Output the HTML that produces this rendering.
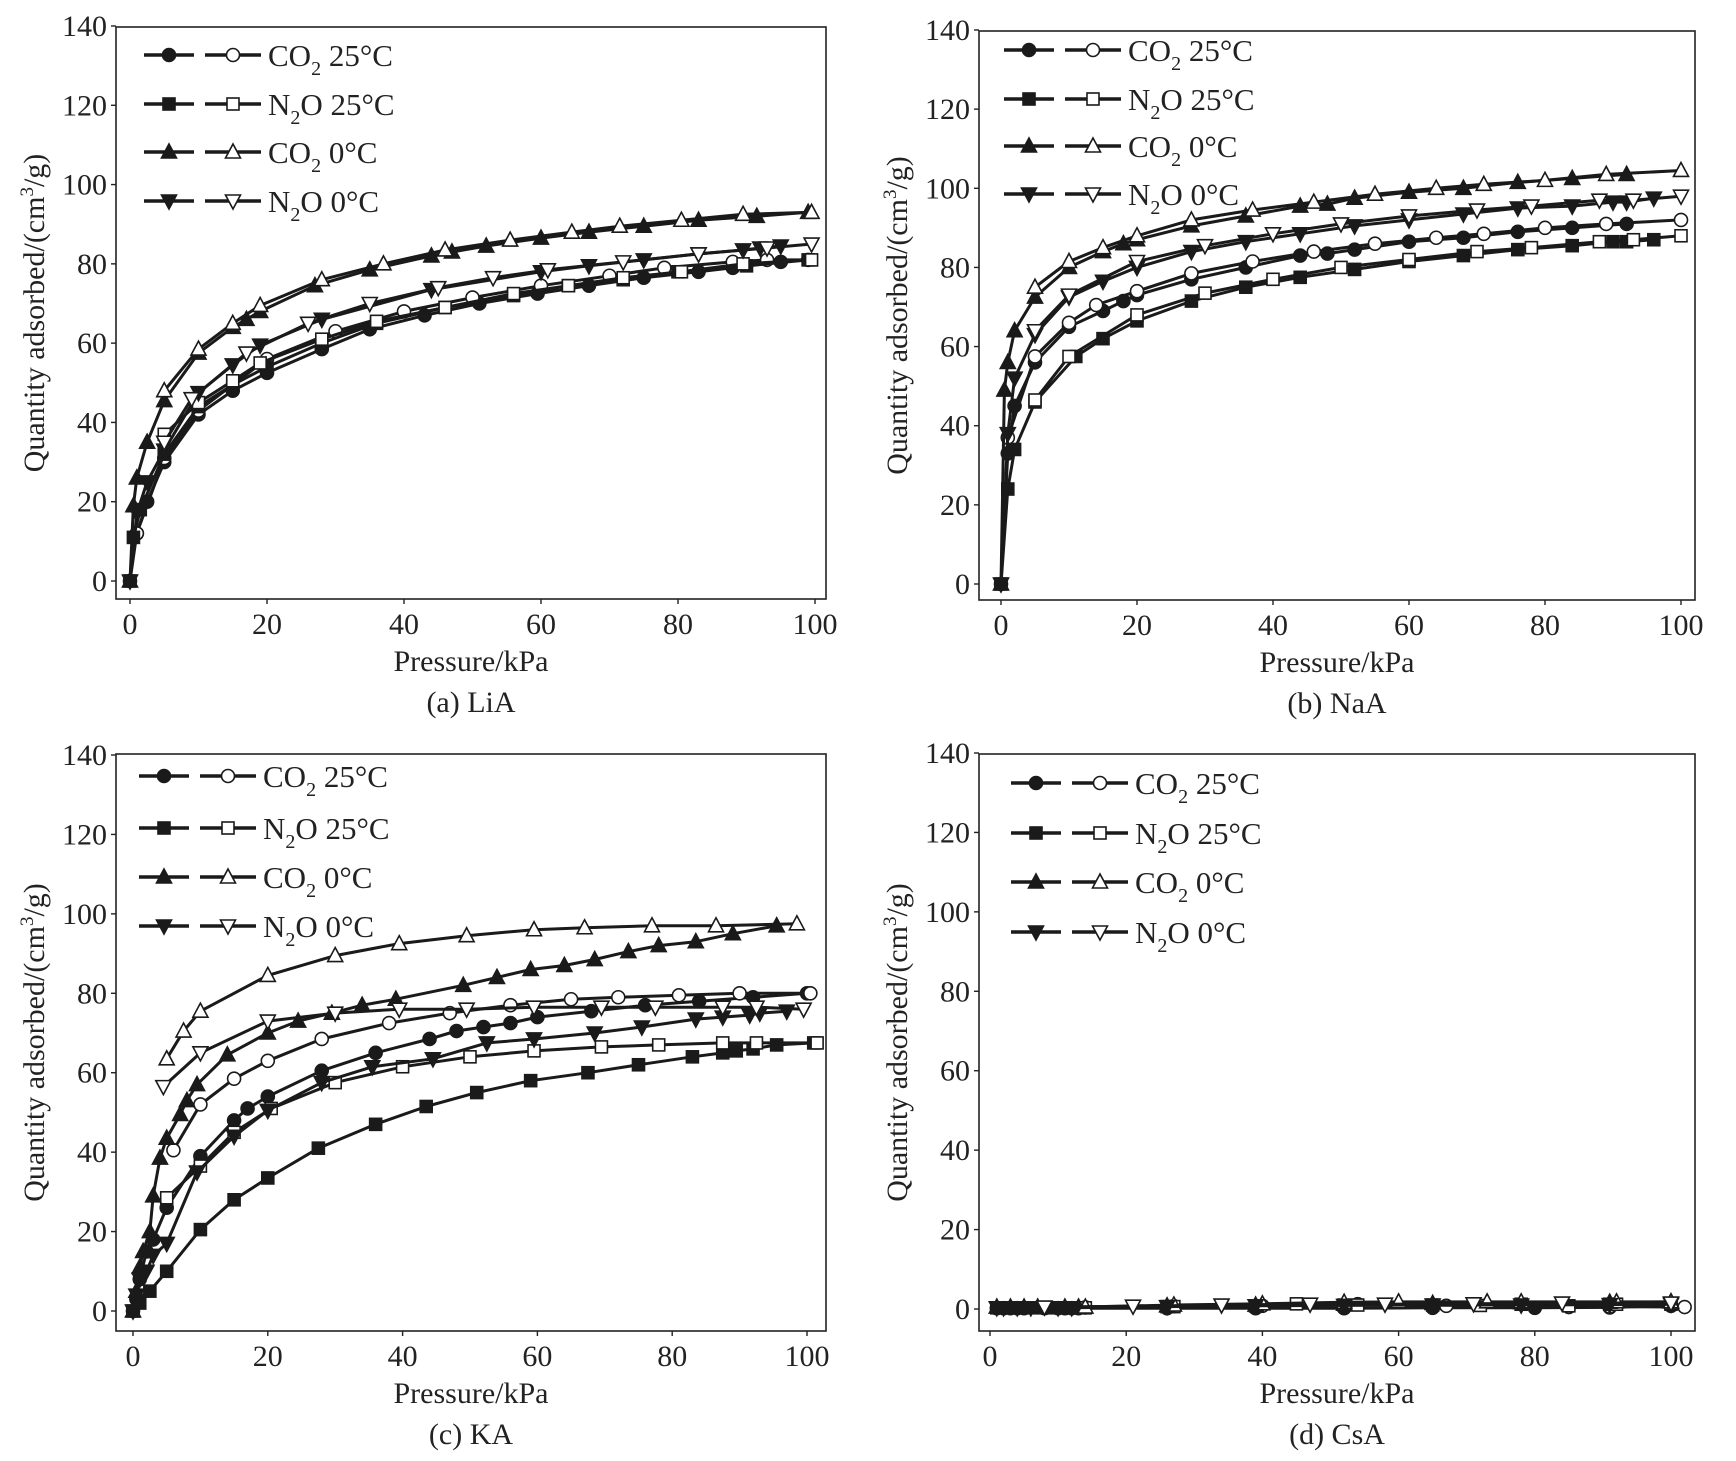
<!DOCTYPE html>
<html><head><meta charset="utf-8"><style>
html,body{margin:0;padding:0;background:#fff;}
svg{display:block;font-family:"Liberation Serif",serif;}
</style></head><body>
<svg id="fig" width="1736" height="1461" viewBox="0 0 1736 1461" xmlns="http://www.w3.org/2000/svg"></svg>
<script>
// ---- categories / ticks ----
const xTicks = [0,20,40,60,80,100];
const yTicks = [0,20,40,60,80,100,120,140];
const seriesNames = ["CO2 25", "N2O 25", "CO2 0", "N2O 0"];
const panelCaptions = ["(a) LiA","(b) NaA","(c) KA","(d) CsA"];

// ---- (a) LiA ----
const liaCO2_25_ads = [[0,0],[1,12],[2.5,20],[5,30],[10,42],[15,48],[20,52.5],[28,58.5],[35,63.5],[43,67],[51,70],[59.5,72.5],[67,74.5],[75,76.5],[83,78],[88,79],[95,80.5]];
const liaCO2_25_des = [[1,12],[5,31],[10,43],[20,56],[30,63],[40,68],[50,71.5],[60,74.5],[70,77],[78,79],[88,80.5],[93,81],[99,81]];
const liaN2O_25_ads = [[0,0],[0.5,11],[1.5,18],[5,32],[10,44],[15,49.5],[20,54],[28,60],[36,65],[46,69],[56,72],[64,74.5],[72,76],[80,78],[90,79.5],[99,81]];
const liaN2O_25_des = [[5,37],[10,45],[15,50.5],[19,55],[28,61],[36,65.5],[46,69],[56,72.5],[64,74.5],[72,76.5],[80.5,78],[89.5,80],[99.5,81]];
const liaCO2_0_ads = [[0,0],[0.5,19],[1,26],[2.5,35],[5,45.5],[10,57.5],[15,64],[17,66],[19,68],[27,74.5],[35,78.5],[44,82],[47,83],[52,84.5],[60,86.5],[67,88],[75,89.5],[83,91],[91.5,92],[99,93]];
const liaCO2_0_des = [[5,48],[10,58.5],[15,65],[19,69.5],[28,76],[37,80],[46,83.5],[55.5,86],[64.5,88],[71.5,89.5],[80.5,91],[89.5,92.5],[99.5,93]];
const liaN2O_0_ads = [[0,0],[1,17],[2.5,25],[5,33],[10,47.5],[15,54.5],[19,59.5],[28,66],[44,73.5],[60,78],[67,79.5],[75,81],[83,82.5],[89.5,83.5],[92,84],[95,84.5]];
const liaN2O_0_des = [[5,35],[9,46],[17,57.5],[26,65],[35,70],[45,74],[53,76.5],[61,78.5],[72,80.5],[83,82.5],[93,84],[99.5,85]];

// ---- (b) NaA ----
const naaCO2_25_ads = [[0,0],[1,33],[2,45],[5,56],[10,65],[15,69],[18,71.5],[20,73],[28,77],[36,80],[44,83],[48,83.5],[52,84.5],[60,86.5],[68,87.5],[76,89],[84,90],[92,91]];
const naaCO2_25_des = [[1,37],[5,57.5],[10,66],[14,70.5],[20,74],[28,78.5],[37,81.5],[46,84],[55,86],[64,87.5],[71,88.5],[80,90],[89,91],[100,92]];
const naaN2O_25_ads = [[0,0],[1,24],[2,34],[5,46],[11,57.5],[15,62],[20,66.5],[28,71.5],[36,75],[44,77.5],[52,79.5],[60,81.5],[68,83],[76,84.5],[84,85.5],[90,86.5],[92,86.5],[96,87]];
const naaN2O_25_des = [[5,46.5],[10,57.5],[20,68],[30,73.5],[40,77],[50,80],[60,82],[70,84],[78,85],[88,86.5],[93,87],[100,88]];
const naaCO2_0_ads = [[0,0],[0.5,49],[1,56],[2,64],[5,72.5],[10,80],[15,84],[18,86],[20,87],[28,90.5],[36,93],[44,95.5],[48,96],[52,97.5],[60,99],[68,100],[76,101.5],[84,102.5],[92,103.5]];
const naaCO2_0_des = [[5,75],[10,81.5],[15,85],[20,88],[28,92],[37,94.5],[46,96.5],[55,98.5],[64,100],[71,101],[80,102],[89,103.5],[100,104.5]];
const naaN2O_0_ads = [[0,0],[1,38],[2,52],[5,63],[10,72.5],[15,76.5],[20,80],[28,84],[36,86.5],[44,88.5],[52,90.5],[60,92],[68,93.5],[76,95],[84,95.5],[90,96.5],[92,96.5],[96,97.5]];
const naaN2O_0_des = [[5,64],[10,73],[20,81.5],[30,85.5],[40,88.5],[50,91],[60,93],[70,94.5],[78,95.5],[88,97],[93,97],[100,98]];

// ---- (c) KA ----
const kaCO2_25_ads = [[0,0],[0.5,3],[1,8],[2,15],[3,18],[5,26],[10,39],[15,48],[17,51],[20,54],[28,60.5],[36,65],[44,68.5],[48,70.5],[52,71.5],[56,72.5],[60,74],[68,75.5],[76,77],[84,78],[92,79],[100,80]];
const kaCO2_25_des = [[100.5,80],[90,80],[81,79.5],[72,79],[65,78.5],[56,77],[47,75],[38,72.5],[28,68.5],[20,63],[15,58.5],[10,52],[6,40.5]];
const kaN2O_25_ads = [[0,0],[1,2],[2.5,5],[5,10],[10,20.5],[15,28],[20,33.5],[27.5,41],[36,47],[43.5,51.5],[51,55],[59,58],[67.5,60],[75,62],[83,64],[87.5,65],[89.5,65.5],[92,66],[95.5,67],[101,67.5]];
const kaN2O_25_des = [[101.5,67.5],[92.5,67.5],[87.5,67.5],[78,67],[69.5,66.5],[59.5,65.5],[50,64],[40,61.5],[30,57.5],[20.5,51],[15,45],[10,36.5],[5,28.5]];
const kaCO2_0_ads = [[0,0],[0.5,5],[1,11],[1.5,15],[2.5,20],[3,29],[4,38.5],[5,43.5],[7,49.5],[8,53],[9.5,57],[14,64.5],[20,70],[24.5,73],[29.5,75],[34,77],[39,78.5],[49,82],[54,84],[59,86],[64,87],[68.5,88.5],[73.5,90.5],[78,92],[83.5,93],[89,95],[95.5,97]];
const kaCO2_0_des = [[98.5,97.5],[86.5,97],[77,97],[67,96.5],[59.5,96],[49.5,94.5],[39.5,92.5],[30,89.5],[20,84.5],[10,75.5],[7.5,70.5],[5,63.5]];
const kaN2O_0_ads = [[0,0],[0.5,4],[1,8],[2,10],[3,14],[5,17],[9.5,35],[15,44],[20,50.5],[28,57.5],[35.5,61.5],[44.5,63.5],[52.5,67.5],[59.5,68.5],[68.5,70],[75.5,71.5],[83.5,73.5],[87.5,74],[91.5,74.5],[93,75],[97,75.5]];
const kaN2O_0_des = [[99.5,76],[92.5,76.5],[87.5,76.5],[77.5,76.5],[69.5,76.5],[59.5,76.5],[49.5,76],[39.5,76],[30,75],[20,73],[10,65],[4.5,56.5]];

// ---- (d) CsA ----
const csaCO2_25_ads = [[1,0.2],[2,0.2],[3,0.2],[4,0.2],[5,0.2],[8,0.2],[10,0.2],[11,0.2],[12,0.2],[13,0.2],[26,0.2],[39,0.2],[52,0.2],[65,0.3],[80,0.3],[91,0.4],[100,0.8]];
const csaCO2_25_des = [[14,0.4],[27,0.7],[40,0.8],[54,1.2],[67,0.8],[85,0.5],[91,0.6],[102,0.5]];
const csaN2O_25_ads = [[1,0.3],[3,0.3],[5,0.3],[7,0.3],[9,0.3],[12,0.3],[26,0.6],[39,0.8],[52,1],[65,1],[78,1.2],[91,1.2],[100,1.2]];
const csaN2O_25_des = [[14,0.3],[27,0.6],[45,1.3],[54,1],[72,0.9],[85,0.8],[92,1.2],[100,1.4]];
const csaCO2_0_ads = [[1,0.5],[3,0.5],[5,0.5],[7,0.5],[11,0.5],[13,0.5],[26,0.8],[39,1],[52,1.2],[65,1.4],[78,1.6],[91,1.7],[100,1.8]];
const csaCO2_0_des = [[14,0.5],[27,1],[40,1.3],[52,1.7],[60,1.8],[73,1.8],[78,1.8],[92,1.8],[100,1.8]];
const csaN2O_0_ads = [[1,0.3],[2,0.3],[4,0.3],[6,0.3],[10,0.3],[12,0.3],[26,0.6],[39,0.8],[52,0.9],[65,1],[78,1],[91,1.1],[100,1.2]];
const csaN2O_0_des = [[8,0.5],[21,0.7],[34,1],[47,1.2],[58,1.2],[71,1.3],[84,1.5],[100,1.5]];

const panelSeries = [
 [[liaCO2_25_ads,liaCO2_25_des],[liaN2O_25_ads,liaN2O_25_des],[liaCO2_0_ads,liaCO2_0_des],[liaN2O_0_ads,liaN2O_0_des]],
 [[naaCO2_25_ads,naaCO2_25_des],[naaN2O_25_ads,naaN2O_25_des],[naaCO2_0_ads,naaCO2_0_des],[naaN2O_0_ads,naaN2O_0_des]],
 [[kaCO2_25_ads,kaCO2_25_des],[kaN2O_25_ads,kaN2O_25_des],[kaCO2_0_ads,kaCO2_0_des],[kaN2O_0_ads,kaN2O_0_des]],
 [[csaCO2_25_ads,csaCO2_25_des],[csaN2O_25_ads,csaN2O_25_des],[csaCO2_0_ads,csaCO2_0_des],[csaN2O_0_ads,csaN2O_0_des]]
];

// ---- layout (pixels) ----
const layouts = [
 {bx0:116,bx1:826,by0:27,by1:599,x0:130,x100:815,y0:581,y140:26,legX:144,legY:[55,104,152,201],id:"lia"},
 {bx0:979,bx1:1695,by0:31,by1:600,x0:1001,x100:1681,y0:584,y140:30,legX:1004,legY:[50,99,146,194],id:"naa"},
 {bx0:116,bx1:826,by0:754,by1:1331,x0:133,x100:807,y0:1311,y140:755,legX:139,legY:[776,828,877,926],id:"ka"},
 {bx0:979,bx1:1695,by0:754,by1:1331,x0:990,x100:1671,y0:1309,y140:753,legX:1011,legY:[783,833,882,932],id:"csa"}
];
const shapes = ["circle","square","up","down"];
const NS = "http://www.w3.org/2000/svg";
const fig = document.getElementById("fig");
function mk(tag, attrs, parent){const e=document.createElementNS(NS,tag);for(const k in attrs)e.setAttribute(k,attrs[k]);parent.appendChild(e);return e;}

function marker(g, shape, cx, cy, filled){
  const fill = filled ? "#1a1a1a" : "#fff";
  const st = {fill:fill, stroke:"#1a1a1a", "stroke-width":1.6};
  let e;
  if(shape==="circle"){ e=mk("circle",Object.assign({cx:cx,cy:cy,r:6.5},st),g); }
  else if(shape==="square"){ e=mk("rect",Object.assign({x:cx-6,y:cy-6,width:12,height:12},st),g); }
  else if(shape==="up"){ e=mk("polygon",Object.assign({points:`${cx},${cy-8} ${cx+7.5},${cy+6} ${cx-7.5},${cy+6}`},st),g); }
  else { e=mk("polygon",Object.assign({points:`${cx},${cy+8} ${cx+7.5},${cy-6} ${cx-7.5},${cy-6}`},st),g); }
  
  
}

function gasLabel(t, name, temp){
  if(name==="CO2"){ t.innerHTML = 'CO<tspan dy="9" font-size="20">2</tspan><tspan dy="-9"> '+temp+'</tspan>'; }
  else { t.innerHTML = 'N<tspan dy="9" font-size="20">2</tspan><tspan dy="-9">O '+temp+'</tspan>'; }
}

layouts.forEach((L, pi) => {
  const g = mk("g", {}, fig);
  
  
  const sx = v => L.x0 + (v/100)*(L.x100-L.x0);
  const sy = v => L.y0 - (v/140)*(L.y0-L.y140);

  const box = mk("rect",{x:L.bx0,y:L.by0,width:L.bx1-L.bx0,height:L.by1-L.by0,fill:"none",stroke:"#222","stroke-width":1.6},g);
  
  

  xTicks.forEach(v=>{
    const tk = mk("line",{x1:sx(v),x2:sx(v),y1:L.by1,y2:L.by1+5,stroke:"#222","stroke-width":1.4},g);
    
    
    const t = mk("text",{x:sx(v),y:L.by1+35,"text-anchor":"middle","font-size":30,fill:"#222"},g);
    t.textContent = v;
    
    
  });
  yTicks.forEach(v=>{
    const tk = mk("line",{x1:L.bx0-5,x2:L.bx0,y1:sy(v),y2:sy(v),stroke:"#222","stroke-width":1.4},g);
    
    
    const t = mk("text",{x:L.bx0-9,y:sy(v)+10,"text-anchor":"end","font-size":30,fill:"#222"},g);
    t.textContent = v;
    
    
  });
  const xt = mk("text",{x:(L.bx0+L.bx1)/2,y:L.by1+72,"text-anchor":"middle","font-size":30,fill:"#222"},g);
  xt.textContent = "Pressure/kPa";
  
  
  const cap = mk("text",{x:(L.bx0+L.bx1)/2,y:L.by1+113,"text-anchor":"middle","font-size":30,fill:"#222"},g);
  cap.textContent = panelCaptions[pi];
  
  
  const yc = (L.by0+L.by1)/2;
  const yt = mk("text",{x:0,y:0,"text-anchor":"middle","font-size":30,fill:"#222",transform:`translate(${L.bx0-72},${yc}) rotate(-90)`},g);
  yt.innerHTML = 'Quantity adsorbed/(cm<tspan dy="-11" font-size="19">3</tspan><tspan dy="11">/g)</tspan>';
  
  

  panelSeries[pi].forEach((pair, si) => {
    pair.forEach((pts, bi) => {
      const sg = mk("g",{},g);
      
      
      const d = pts.map((p,i)=>(i?'L':'M')+sx(p[0]).toFixed(1)+','+sy(p[1]).toFixed(1)).join(' ');
      const pl = mk("path",{d:d,fill:"none",stroke:"#1a1a1a","stroke-width":3,"stroke-linejoin":"round"},sg);
      
      
      pts.forEach(p=>marker(sg, shapes[si], sx(p[0]), sy(p[1]), bi===0));
    });
  });

  const lg = mk("g",{},g);
  
  
  const labels = [["CO2","25°C"],["N2O","25°C"],["CO2","0°C"],["N2O","0°C"]];
  L.legY.forEach((yy, si)=>{
    const eg = mk("g",{},lg);
    
    
    const x = L.legX;
    mk("line",{x1:x,x2:x+50,y1:yy,y2:yy,stroke:"#1a1a1a","stroke-width":3.5},eg);
    marker(eg, shapes[si], x+25, yy, true);
    mk("line",{x1:x+61,x2:x+117,y1:yy,y2:yy,stroke:"#1a1a1a","stroke-width":3.5},eg);
    marker(eg, shapes[si], x+89, yy, false);
    const t = mk("text",{x:x+124,y:yy+11,"font-size":31,fill:"#222"},eg);
    gasLabel(t, labels[si][0], labels[si][1]);
    
    
  });
});
</script>
</body></html>
